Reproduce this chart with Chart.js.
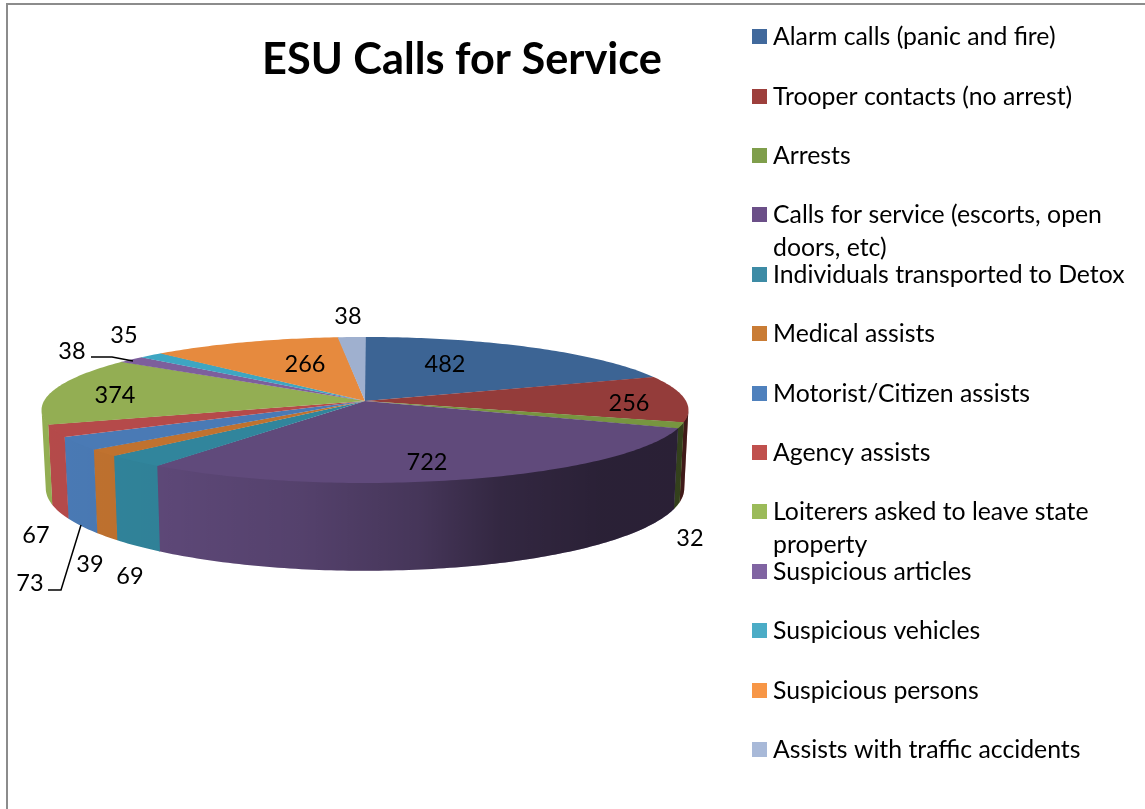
<!DOCTYPE html>
<html>
<head>
<meta charset="utf-8">
<title>ESU Calls for Service</title>
<script src="https://cdn.jsdelivr.net/npm/chart.js@4"></script>
<style>
  html, body { margin: 0; padding: 0; background: #fff; overflow: hidden; }
  canvas { display: block; }
</style>
</head>
<body>
<canvas id="esu" width="1145" height="809"></canvas>
<script>
var titleText = 'ESU Calls for Service';
var categories = [
  'Alarm calls (panic and fire)',
  'Trooper contacts (no arrest)',
  'Arrests',
  'Calls for service (escorts, open doors, etc)',
  'Individuals transported to Detox',
  'Medical assists',
  'Motorist/Citizen assists',
  'Agency assists',
  'Loiterers asked to leave state property',
  'Suspicious articles',
  'Suspicious vehicles',
  'Suspicious persons',
  'Assists with traffic accidents'
];
var calls = [482, 256, 32, 722, 69, 39, 73, 67, 374, 38, 35, 266, 38];

var sliceColors = ['#3c6494', '#943c3a', '#779540', '#604a7b', '#31859c', '#c0722f', '#4a7ab5',
  '#b54a4a', '#93ae53', '#7d5f9c', '#3ea6c2', '#e68a3e', '#9fb0cf'];
var swatchColors = ['#41699c', '#9d3f3c', '#7f9e4b', '#6b4f88', '#3d8ba5', '#c97c35', '#4f81bd',
  '#c0504d', '#9bbb59', '#8064a2', '#4bacc6', '#f79646', '#a8b9d8'];

/* where each value label sits, same order as calls */
var labelSpots = [[445, 364], [629, 403], [690, 538], [427, 462], [130, 576], [90, 564], [30, 583],
  [36, 535], [115, 395], [72, 351], [124, 335], [305, 364], [348, 316]];
/* legend rows: centre y of the first line, wrapped text goes on a second line */
var legendRows = [36, 96, 155, 214, 274, 333, 393, 452, 511, 571, 630, 690, 749];
var legendLines = {
  3: ['Calls for service (escorts, open', 'doors, etc)'],
  8: ['Loiterers asked to leave state', 'property']
};
var leaders = [
  [[91, 357], [112, 357], [133, 361]],
  [[48, 590], [61, 590], [81, 525]]
];

/* perspective disc: apex, radii, tilt and wall depth */
var CX = 365, CY = 401, RX = 321, RY = 71.9, TILT = 0.123, DEPTH = 77, FOOT = 0.987;
var OVERLAP = 0.003;
var FONT = 'Lato, sans-serif';

function project(angle, down) {
  var u = Math.sin(angle), v = -Math.cos(angle);
  var w = 1 - TILT * v;
  var x = RX * u / w, y = RY * v / w;
  if (down) { return [CX + x * FOOT, CY + y + DEPTH / w]; }
  return [CX + x, CY + y];
}

function traceTop(ctx, a0, a1) {
  ctx.beginPath();
  ctx.moveTo(CX, CY);
  var n = Math.max(2, Math.ceil((a1 - a0) * 60));
  for (var i = 0; i <= n; i++) {
    var p = project(a0 + (a1 - a0) * i / n, false);
    ctx.lineTo(p[0], p[1]);
  }
  ctx.closePath();
}

/* the upper edge runs a pixel under the top face so no seam shows */
function traceWall(ctx, a0, a1) {
  var n = Math.max(2, Math.ceil((a1 - a0) * 60)), i, p;
  ctx.beginPath();
  for (i = 0; i <= n; i++) {
    p = project(a0 + (a1 - a0) * i / n, false);
    if (i === 0) { ctx.moveTo(p[0], p[1] - 1); } else { ctx.lineTo(p[0], p[1] - 1); }
  }
  for (i = n; i >= 0; i--) {
    p = project(a0 + (a1 - a0) * i / n, true);
    ctx.lineTo(p[0], p[1]);
  }
  ctx.closePath();
}

var disc3d = {
  id: 'disc3d',
  beforeDatasetsDraw: function (chart) {
    var ctx = chart.ctx;
    var arcs = chart.getDatasetMeta(0).data;
    var front0 = Math.acos(-TILT), front1 = 2 * Math.PI - front0;

    /* walls get darker towards the right */
    var shade = ctx.createLinearGradient(40, 0, 690, 0);
    [[40, 0], [160, 0.03], [300, 0.12], [420, 0.28], [500, 0.47], [600, 0.56], [690, 0.57]].forEach(function (s) {
      shade.addColorStop((s[0] - 40) / 650, 'rgba(0,0,0,' + s[1] + ')');
    });

    ctx.save();
    arcs.forEach(function (arc, i) {
      var a0 = Math.max(arc.startAngle + Math.PI / 2, front0);
      var a1 = Math.min(arc.endAngle + Math.PI / 2 + OVERLAP, front1);
      if (a1 <= a0) { return; }
      traceWall(ctx, a0, a1);
      ctx.fillStyle = sliceColors[i];
      ctx.fill();
      ctx.fillStyle = shade;
      ctx.fill();
    });
    arcs.forEach(function (arc, i) {
      traceTop(ctx, arc.startAngle + Math.PI / 2, arc.endAngle + Math.PI / 2 + OVERLAP);
      ctx.fillStyle = sliceColors[i];
      ctx.fill();
    });
    ctx.restore();
    return false;
  },
  afterDraw: function (chart) {
    var ctx = chart.ctx;
    ctx.save();

    /* frame */
    ctx.fillStyle = '#8c8c8c';
    ctx.fillRect(6, 3, 1139, 2);
    ctx.fillRect(6, 3, 2, 806);

    ctx.fillStyle = '#000';
    ctx.textBaseline = 'middle';

    ctx.font = 'bold 43.3px ' + FONT;
    ctx.textAlign = 'center';
    ctx.fillText(titleText, 462, 60);

    /* value labels and their leader lines */
    ctx.font = '23.5px ' + FONT;
    calls.forEach(function (v, i) {
      ctx.fillText(String(v), labelSpots[i][0], labelSpots[i][1]);
    });
    ctx.strokeStyle = '#000';
    ctx.lineWidth = 1.5;
    leaders.forEach(function (pts) {
      ctx.beginPath();
      pts.forEach(function (p, j) {
        if (j === 0) { ctx.moveTo(p[0], p[1]); } else { ctx.lineTo(p[0], p[1]); }
      });
      ctx.stroke();
    });

    /* legend */
    ctx.textAlign = 'left';
    ctx.font = '24.8px ' + FONT;
    categories.forEach(function (name, i) {
      var y = legendRows[i];
      ctx.fillStyle = swatchColors[i];
      ctx.fillRect(752, y - 7, 15, 15);
      ctx.fillStyle = '#000';
      (legendLines[i] || [name]).forEach(function (line, j) {
        ctx.fillText(line, 773, y + 1 + j * 33);
      });
    });
    ctx.restore();
  }
};

new Chart(document.getElementById('esu'), {
  type: 'pie',
  data: {
    labels: categories,
    datasets: [{ data: calls, backgroundColor: sliceColors, borderWidth: 0 }]
  },
  options: {
    responsive: false,
    animation: false,
    plugins: { legend: { display: false }, tooltip: { enabled: false } }
  },
  plugins: [disc3d]
});
</script>
</body>
</html>
